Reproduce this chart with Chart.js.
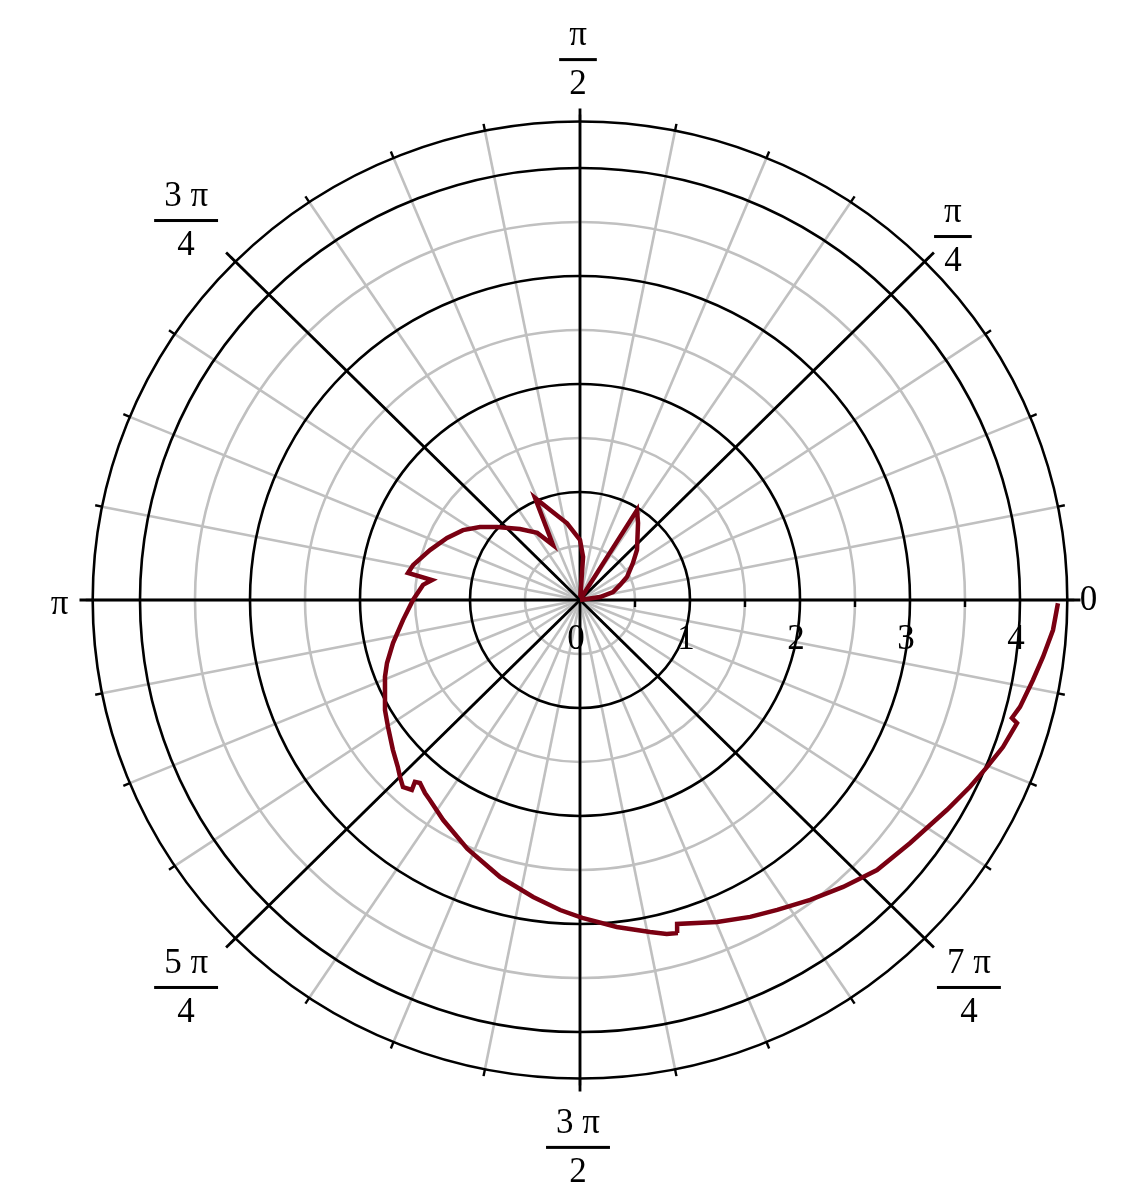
<!DOCTYPE html>
<html>
<head>
<meta charset="utf-8">
<script src="https://cdn.jsdelivr.net/npm/chart.js@4"></script>
<style>
  html, body { margin: 0; padding: 0; background: #ffffff; }
  #wrap { width: 1124px; height: 1199px; }
</style>
</head>
<body>
<div id="wrap"><canvas id="c" width="1124" height="1199"></canvas></div>
<script>
// ---- data (angle in degrees, radius) ----
const thetaDeg = [
  0, 8.7, 13.9, 20.9, 26.5, 35.4, 41.8, 53.5, 58.1, 60, 84, 86, 90, 99.4, 108, 113.4,
  115.7, 122, 129.7, 138.2, 143.4, 148.7, 154.6, 161.3, 168, 170.9,
  172.2, 174.4, 180, 186.6, 193.2, 198.4, 201.9, 209.9, 214, 219.2, 223,
  225.05, 227.1, 229, 228.3, 229.35, 231.75, 233.6, 238.6, 246, 254.2, 261.2,
  266.4, 270.4, 276.3, 281.7, 284.3, 286.1, 286.4, 292.7, 297.8, 302, 307,
  312, 317.2, 323.1, 329.8, 334, 337.3, 340.5, 344.0, 344.45, 346.1, 349.8,
  352.85, 356.3, 359.6
];
const radius = [
  0, 0.184, 0.309, 0.39, 0.477, 0.59, 0.695, 0.887, 0.981, 0.03, 0.04, 0.40, 0.556, 0.72, 0.877, 1.03,
  0.565, 0.733, 0.854, 1.013, 1.133, 1.245, 1.338, 1.44, 1.552, 1.584,
  1.358, 1.434, 1.518, 1.62, 1.746, 1.849, 1.911, 2.045, 2.105, 2.195, 2.265,
  2.316, 2.364, 2.33, 2.256, 2.233, 2.276, 2.3, 2.387, 2.52, 2.666, 2.783,
  2.876, 2.944, 3.046, 3.139, 3.192, 3.209, 3.127, 3.231, 3.317, 3.383, 3.477,
  3.575, 3.68, 3.75, 3.861, 3.945, 4.01, 4.079, 4.133, 4.076, 4.121, 4.184,
  4.242, 4.309, 4.345
];
const radialTicks = [0, 1, 2, 3, 4];
const majorRings = [1, 2, 3, 4];
const minorRings = [0.5, 1.5, 2.5, 3.5];
const outerRadius = 4.43;
const axisRadius = 4.55;
const angleNumerators = ['0', 'π', 'π', '3 π', 'π', '5 π', '3 π', '7 π'];
const angleDenominators = ['', '4', '2', '4', '', '4', '2', '4'];

// ---- layout (pixels) ----
const labelOffsets = [[8, 1], [19, -16], [-2, -49], [-40, -32], [-20, 5], [-40, 40], [-2, 56], [35, 40]];
const LABEL_FONT = '35px "Liberation Serif", "DejaVu Serif", serif';

const pts = thetaDeg.map((t, i) => {
  const a = t * Math.PI / 180;
  return { x: radius[i] * Math.cos(a), y: radius[i] * Math.sin(a) };
});

const polarGrid = {
  id: 'polarGrid',
  beforeDatasetsDraw(chart) {
    const ctx = chart.ctx, X = chart.scales.x, Y = chart.scales.y;
    const cx = X.getPixelForValue(0), cy = Y.getPixelForValue(0);
    const kx = X.getPixelForValue(1) - cx, ky = cy - Y.getPixelForValue(1);
    const P = (r, a) => [X.getPixelForValue(r * Math.cos(a)), Y.getPixelForValue(r * Math.sin(a))];
    ctx.save();
    // gray spokes every pi/16
    ctx.strokeStyle = '#c0c0c0';
    ctx.lineWidth = 2.6;
    for (let k = 0; k < 32; k++) {
      const a = k * Math.PI / 16;
      const p = P(outerRadius, a);
      ctx.beginPath(); ctx.moveTo(cx, cy); ctx.lineTo(p[0], p[1]); ctx.stroke();
    }
    // gray rings
    minorRings.forEach(r => {
      ctx.beginPath(); ctx.ellipse(cx, cy, r * kx, r * ky, 0, 0, Math.PI * 2); ctx.stroke();
    });
    // black rings
    ctx.strokeStyle = '#000';
    ctx.lineWidth = 2.6;
    majorRings.concat([outerRadius]).forEach(r => {
      ctx.beginPath(); ctx.ellipse(cx, cy, r * kx, r * ky, 0, 0, Math.PI * 2); ctx.stroke();
    });
    // black axes every pi/4
    ctx.lineWidth = 2.8;
    for (let k = 0; k < 8; k++) {
      const a = k * Math.PI / 4;
      const p = P(axisRadius, a);
      ctx.beginPath(); ctx.moveTo(cx, cy); ctx.lineTo(p[0], p[1]); ctx.stroke();
    }
    // small angle ticks on the outer ring
    ctx.lineWidth = 2.4;
    for (let k = 0; k < 32; k++) {
      const a = k * Math.PI / 16;
      const p1 = P(outerRadius, a);
      const ux = Math.cos(a), uy = -Math.sin(a);
      ctx.beginPath(); ctx.moveTo(p1[0], p1[1]); ctx.lineTo(p1[0] + ux * 7, p1[1] + uy * 7); ctx.stroke();
    }
    // small radial ticks on the positive horizontal axis
    minorRings.forEach(r => {
      const x = X.getPixelForValue(r);
      ctx.beginPath(); ctx.moveTo(x, cy); ctx.lineTo(x, cy + 7); ctx.stroke();
    });
    ctx.restore();
  },
  afterDraw(chart) {
    const ctx = chart.ctx, X = chart.scales.x, Y = chart.scales.y;
    const cy = Y.getPixelForValue(0);
    ctx.save();
    ctx.fillStyle = '#000';
    ctx.font = LABEL_FONT;
    ctx.textAlign = 'center';
    ctx.textBaseline = 'middle';
    // radial labels
    radialTicks.forEach(r => {
      ctx.fillText(String(r), X.getPixelForValue(r) - 4, cy + 40);
    });
    // angle labels
    angleNumerators.forEach((num, k) => {
      const a = k * Math.PI / 4;
      const ex = X.getPixelForValue(axisRadius * Math.cos(a));
      const ey = Y.getPixelForValue(axisRadius * Math.sin(a));
      const lx = ex + labelOffsets[k][0], ly = ey + labelOffsets[k][1];
      const den = angleDenominators[k];
      if (!den) {
        ctx.fillText(num, lx, ly);
      } else {
        const w = ctx.measureText(num).width + 20;
        ctx.fillText(num, lx, ly - 24);
        ctx.fillRect(lx - w / 2, ly - 1.5, w, 3);
        ctx.fillText(den, lx, ly + 25);
      }
    });
    ctx.restore();
  }
};

new Chart(document.getElementById('c'), {
  type: 'scatter',
  data: {
    datasets: [{
      data: pts,
      showLine: true,
      borderColor: '#7a0012',
      borderWidth: 4.5,
      pointRadius: 0,
      tension: 0,
      fill: false
    }]
  },
  options: {
    responsive: false,
    animation: false,
    devicePixelRatio: 1,
    layout: { padding: 0 },
    plugins: { legend: { display: false }, tooltip: { enabled: false } },
    scales: {
      x: { type: 'linear', display: false, min: -580 / 110, max: 544 / 110 },
      y: { type: 'linear', display: false, min: -599 / 108, max: 600 / 108 }
    }
  },
  plugins: [polarGrid]
});
</script>
</body>
</html>
